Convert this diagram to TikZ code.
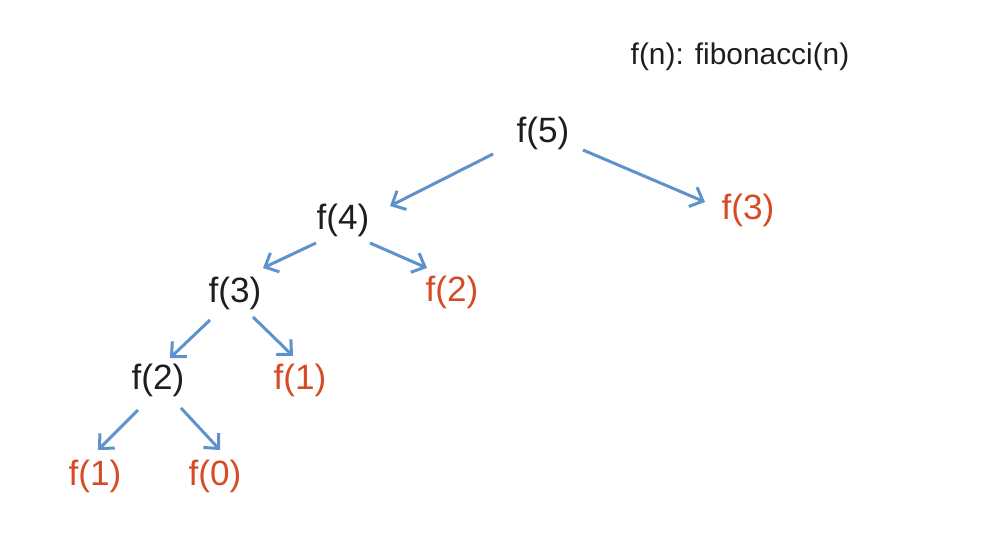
\documentclass[tikz,border=0pt]{standalone}
\usepackage{fontspec}
\setmainfont{Liberation Sans}
\usetikzlibrary{arrows.meta, positioning}

\definecolor{fibblue}{RGB}{95,145,205}
\definecolor{fibred}{RGB}{214,74,36}
\definecolor{fibink}{RGB}{30,30,30}

\begin{document}
\begin{tikzpicture}[x=0.02cm,y=-0.02cm,->,>={Straight Barb[length=2.2mm,width=4.2mm]},line width=0.6mm]
	
	\tikzset{node call/.style={inner sep=0.5pt,
			text=fibink,
			font=\fontsize{20}{24}\selectfont}}
	\tikzset{node base/.style={node call,
			text=fibred}}
	
	\useasboundingbox (0,0) rectangle (1006,537);
	
	\node[text=fibink, font=\fontsize{17}{20}\selectfont] (title) at (740,57) {f(n): fibonacci(n)};
	
	\node[node call] (F5) at (543,133) {f(5)};
	\node[node call] (F4) at (343,220) {f(4)};
	\node[node base] (F3b) at (748,210) {f(3)};
	\node[node call] (F3) at (235,293) {f(3)};
	\node[node base] (F2b) at (452,292) {f(2)};
	\node[node call] (F2) at (158,380) {f(2)};
	\node[node base] (F1b) at (300,380) {f(1)};
	\node[node base] (F1) at (95,476) {f(1)};
	\node[node base] (F0) at (215,476) {f(0)};
	
	\path[every edge/.append style={draw=fibblue}]
	([shift={(-50,21)}]F5.center) edge		node{} ([shift={(47,-14)}]F4.center)
	([shift={(40,17)}]F5.center) edge		node{} ([shift={(-43,-8)}]F3b.center)
	([shift={(-27,23)}]F4.center) edge		node{} ([shift={(28,-25)}]F3.center)
	([shift={(27,23)}]F4.center) edge		node{} ([shift={(-25,-24)}]F2b.center)
	([shift={(-25,27)}]F3.center) edge		node{} ([shift={(12,-22)}]F2.center)
	([shift={(18,24)}]F3.center) edge		node{} ([shift={(-7,-24)}]F1b.center)
	([shift={(-20,30)}]F2.center) edge		node{} ([shift={(3,-26)}]F1.center)
	([shift={(23,28)}]F2.center) edge		node{} ([shift={(5,-26)}]F0.center);
\end{tikzpicture}
\end{document}
